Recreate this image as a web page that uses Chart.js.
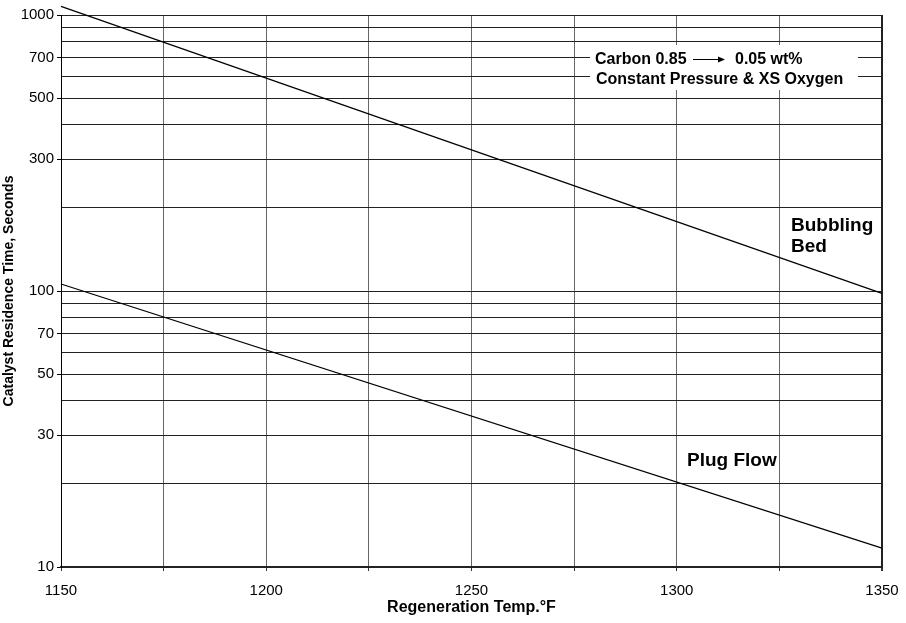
<!DOCTYPE html>
<html>
<head>
<meta charset="utf-8">
<script src="https://cdn.jsdelivr.net/npm/chart.js@4/dist/chart.umd.min.js"></script>
<style>
  body { margin: 0; background: #fff; }
  #wrap { width: 906px; height: 623px; }
</style>
</head>
<body>
<div id="wrap"><canvas id="chart" width="906" height="623"></canvas></div>
<script>
// Data
const temps = [1150, 1350];
const bubblingBed = [1075, 98];
const plugFlow = [106, 11.7];

// Axis ticks
const yGridValues = [10, 20, 30, 40, 50, 60, 70, 80, 90, 100, 200, 300, 400, 500, 600, 700, 800, 900, 1000];
const yLabelValues = [10, 30, 50, 70, 100, 300, 500, 700, 1000];
const xLabelValues = [1150, 1200, 1250, 1300, 1350];

const FONT = '"Liberation Sans", Arial, Helvetica, sans-serif';

function toPoints(xs, ys) {
    return xs.map((x, i) => ({ x: x, y: ys[i] }));
}

// Text notes drawn on the plot (white boxes hide the grid behind them)
const notesPlugin = {
    id: 'notes',
    beforeDatasetsDraw(chart) {
        const ctx = chart.ctx;
        const area = chart.chartArea;
        ctx.save();
        ctx.fillStyle = '#fff';
        ctx.fillRect(590, 45, 268, 45);
        ctx.fillRect(780, 209, area.right - 781, 48);

        ctx.fillStyle = '#000';
        ctx.textBaseline = 'alphabetic';
        ctx.textAlign = 'left';
        ctx.font = 'bold 16px ' + FONT;
        ctx.fillText('Carbon 0.85', 595, 64);
        ctx.fillText('0.05 wt%', 735, 64);
        ctx.fillText('Constant Pressure & XS Oxygen', 596, 83.5);

        // arrow
        ctx.strokeStyle = '#000';
        ctx.lineWidth = 1;
        ctx.beginPath();
        ctx.moveTo(693, 59.5);
        ctx.lineTo(720, 59.5);
        ctx.stroke();
        ctx.beginPath();
        ctx.moveTo(725, 59.5);
        ctx.lineTo(718, 56.5);
        ctx.lineTo(718, 62.5);
        ctx.closePath();
        ctx.fill();

        ctx.font = 'bold 19px ' + FONT;
        ctx.fillText('Bubbling', 791, 231);
        ctx.fillText('Bed', 791, 252);
        ctx.fillText('Plug Flow', 687, 466);
        ctx.restore();
    }
};

const chart = new Chart(document.getElementById('chart').getContext('2d'), {
    type: 'line',
    data: {
        datasets: [{
            label: 'Bubbling Bed',
            data: toPoints(temps, bubblingBed),
            borderColor: '#000',
            borderWidth: 1.2,
            pointRadius: 0,
            tension: 0,
            clip: false
        }, {
            label: 'Plug Flow',
            data: toPoints(temps, plugFlow),
            borderColor: '#000',
            borderWidth: 1.2,
            pointRadius: 0,
            tension: 0,
            clip: false
        }]
    },
    options: {
        responsive: false,
        animation: false,
        events: [],
        layout: { padding: { top: 15, right: 24, left: 0, bottom: 0 } },
        plugins: {
            legend: { display: false },
            tooltip: { enabled: false }
        },
        scales: {
            x: {
                type: 'linear',
                min: 1150,
                max: 1350,
                afterFit: s => {
                    s.height = 56;
                    s.paddingLeft = 0;
                    s.paddingRight = 0;
                },
                ticks: {
                    stepSize: 25,
                    autoSkip: false,
                    maxRotation: 0,
                    padding: 11,
                    color: '#000',
                    font: { family: FONT, size: 15 },
                    callback: v => xLabelValues.includes(v) ? String(v) : ''
                },
                grid: {
                    color: c => c.tick && c.tick.value === 1350 ? '#222' : '#666',
                    lineWidth: c => c.tick && c.tick.value === 1350 ? 2 : 1,
                    tickColor: '#333',
                    tickLength: 4
                },
                border: { color: '#222', width: 2 },
                title: {
                    display: true,
                    text: 'Regeneration Temp.°F',
                    color: '#000',
                    font: { family: FONT, size: 16, weight: 'bold' },
                    padding: { top: 0, bottom: 6 }
                }
            },
            y: {
                type: 'logarithmic',
                min: 10,
                max: 1000,
                afterFit: s => { s.width = 61; },
                afterBuildTicks: s => { s.ticks = yGridValues.map(v => ({ value: v })); },
                ticks: {
                    autoSkip: false,
                    padding: 3,
                    color: '#000',
                    font: { family: FONT, size: 15 },
                    callback: v => yLabelValues.includes(v) ? String(v) : ''
                },
                grid: {
                    color: '#222',
                    lineWidth: 1,
                    tickColor: c => c.tick && yLabelValues.includes(c.tick.value) ? '#000' : 'rgba(0,0,0,0)',
                    tickLength: 4
                },
                border: { color: '#000', width: 1 },
                title: {
                    display: true,
                    text: 'Catalyst Residence Time, Seconds',
                    color: '#000',
                    font: { family: FONT, size: 14, weight: 'bold' },
                    padding: { top: 1, bottom: 0 }
                }
            }
        }
    },
    plugins: [notesPlugin]
});
</script>
</body>
</html>
